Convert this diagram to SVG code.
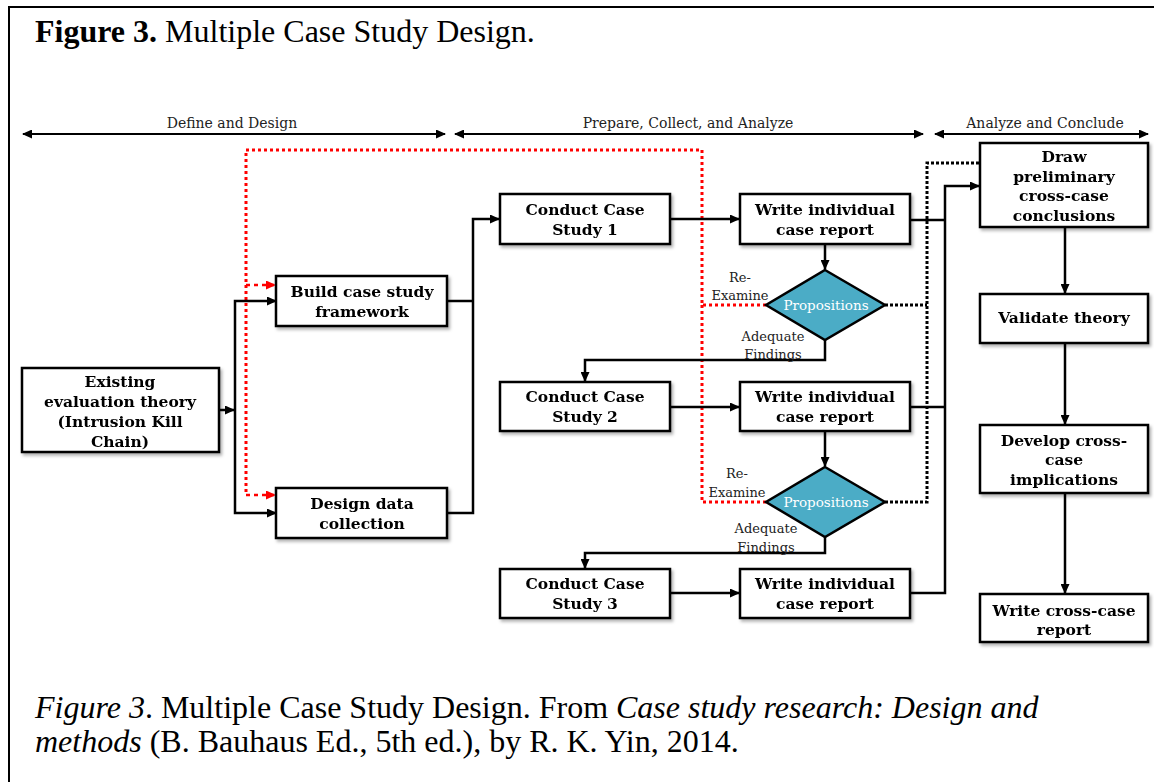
<svg xmlns="http://www.w3.org/2000/svg" width="1154" height="782" viewBox="0 0 1154 782">
<style>
.box{fill:#fff;stroke:#000;stroke-width:2.5}
.bt{font-family:"DejaVu Serif",serif;font-weight:bold;font-size:15.5px;fill:#000;text-anchor:middle}
.rl{font-family:"DejaVu Serif",serif;font-size:14px;fill:#222;text-anchor:middle}
.sl{font-family:"DejaVu Serif",serif;font-size:13px;fill:#222;text-anchor:middle}
.pt{font-family:"DejaVu Serif",serif;font-size:13.5px;fill:#fff;text-anchor:middle}
.ln{fill:none;stroke:#000;stroke-width:2.5}
.rng{fill:none;stroke:#000;stroke-width:2}
.red{fill:none;stroke:#f00;stroke-width:3;stroke-dasharray:3 3}
.redd{fill:none;stroke:#f00;stroke-width:2.5;stroke-dasharray:4 4}
.blk{fill:none;stroke:#000;stroke-width:3;stroke-dasharray:3 2}
.cap{font-family:"Liberation Serif",serif;font-size:32px;fill:#000}
.dia{fill:#4bacc6;stroke:#000;stroke-width:2.5}
</style>
<defs>
<marker id="ah" markerUnits="userSpaceOnUse" markerWidth="10" markerHeight="9" refX="9" refY="4.5" orient="auto-start-reverse"><path d="M0,0 L10,4.5 L0,9 z" fill="#000"/></marker>
<marker id="ahr" markerUnits="userSpaceOnUse" markerWidth="10" markerHeight="9" refX="9" refY="4.5" orient="auto"><path d="M0,0 L10,4.5 L0,9 z" fill="#f00"/></marker>
<filter id="sh" x="-10%" y="-10%" width="130%" height="140%"><feDropShadow dx="2" dy="2.5" stdDeviation="1.5" flood-color="#000" flood-opacity="0.3"/></filter>
</defs>
<rect width="1154" height="782" fill="#fff"/>
<rect x="9" y="7" width="1170" height="800" fill="none" stroke="#000" stroke-width="2"/>
<text class="cap" x="35" y="42"><tspan font-weight="bold">Figure 3.</tspan> Multiple Case Study Design.</text>

<g id="ranges">
<line class="rng" x1="23" y1="134" x2="445" y2="134" marker-start="url(#ah)" marker-end="url(#ah)"/>
<text class="rl" x="232" y="128">Define  and Design</text>
<line class="rng" x1="455" y1="134" x2="923" y2="134" marker-start="url(#ah)" marker-end="url(#ah)"/>
<text class="rl" x="688" y="128">Prepare, Collect, and Analyze</text>
<line class="rng" x1="935" y1="134" x2="1148" y2="134" marker-start="url(#ah)" marker-end="url(#ah)"/>
<text class="rl" x="1045" y="128">Analyze  and Conclude</text>
</g>

<g id="connectors">
<polyline class="red" points="766,305 702,305 702,150 246,150 246,495"/>
<polyline class="red" points="766,502 702,502 702,305"/>
<line class="redd" x1="246" y1="285" x2="275" y2="285" marker-end="url(#ahr)"/>
<line class="redd" x1="246" y1="495" x2="275" y2="495" marker-end="url(#ahr)"/>
<polyline class="blk" points="885,305 927,305"/>
<polyline class="blk" points="885,502 927,502 927,163 980,163"/>
<line class="ln" x1="219" y1="410" x2="234" y2="410" marker-end="url(#ah)"/>
<polyline class="ln" points="276,301 235,301 235,513 276,513" marker-start="url(#ah)" marker-end="url(#ah)"/>
<polyline class="ln" points="447,301 473,301"/>
<polyline class="ln" points="447,513 473,513 473,219 499,219" marker-end="url(#ah)"/>
<line class="ln" x1="670" y1="219" x2="739" y2="219" marker-end="url(#ah)"/>
<line class="ln" x1="825" y1="244" x2="825" y2="269" marker-end="url(#ah)"/>
<polyline class="ln" points="825,340 825,360 585,360 585,381" marker-end="url(#ah)"/>
<line class="ln" x1="670" y1="407" x2="739" y2="407" marker-end="url(#ah)"/>
<line class="ln" x1="825" y1="431" x2="825" y2="466" marker-end="url(#ah)"/>
<polyline class="ln" points="825,537 825,553 585,553 585,568" marker-end="url(#ah)"/>
<line class="ln" x1="670" y1="593" x2="739" y2="593" marker-end="url(#ah)"/>
<polyline class="ln" points="910,220 945,220"/>
<polyline class="ln" points="910,407 945,407"/>
<polyline class="ln" points="910,593 945,593 945,186 979,186" marker-end="url(#ah)"/>
<line class="ln" x1="1065" y1="227" x2="1065" y2="293" marker-end="url(#ah)"/>
<line class="ln" x1="1065" y1="343" x2="1065" y2="424" marker-end="url(#ah)"/>
<line class="ln" x1="1065" y1="493" x2="1065" y2="593" marker-end="url(#ah)"/>
</g>

<g id="existing" filter="url(#sh)">
<rect class="box" x="22" y="368" width="197" height="84"/>
<text class="bt" x="120" y="387">Existing<tspan x="120" dy="20">evaluation theory</tspan><tspan x="120" dy="20">(Intrusion Kill</tspan><tspan x="120" dy="20">Chain)</tspan></text>
</g>
<g id="build" filter="url(#sh)">
<rect class="box" x="276" y="276" width="171" height="50"/>
<text class="bt" x="362" y="297">Build case study<tspan x="362" dy="19.5">framework</tspan></text>
</g>
<g id="design" filter="url(#sh)">
<rect class="box" x="276" y="488" width="171" height="50"/>
<text class="bt" x="362" y="509">Design data<tspan x="362" dy="19.5">collection</tspan></text>
</g>
<g id="conduct1" filter="url(#sh)">
<rect class="box" x="500" y="194" width="170" height="50"/>
<text class="bt" x="585" y="215">Conduct Case<tspan x="585" dy="19.5">Study 1</tspan></text>
</g>
<g id="write1" filter="url(#sh)">
<rect class="box" x="740" y="194" width="170" height="50"/>
<text class="bt" x="825" y="215">Write individual<tspan x="825" dy="19.5">case report</tspan></text>
</g>
<g id="prop1">
<polygon class="dia" points="825,270 885,305 825,340 766,305"/>
<text class="pt" x="826" y="309.5">Propositions</text>
<text class="sl" x="740" y="282">Re-<tspan x="740" dy="18">Examine</tspan></text>
<text class="sl" x="773" y="341">Adequate<tspan x="773" dy="17.5">Findings</tspan></text>
</g>
<g id="conduct2" filter="url(#sh)">
<rect class="box" x="500" y="382" width="170" height="49"/>
<text class="bt" x="585" y="402">Conduct Case<tspan x="585" dy="19.5">Study 2</tspan></text>
</g>
<g id="write2" filter="url(#sh)">
<rect class="box" x="740" y="382" width="170" height="49"/>
<text class="bt" x="825" y="402">Write individual<tspan x="825" dy="19.5">case report</tspan></text>
</g>
<g id="prop2">
<polygon class="dia" points="825,467 885,502 825,537 766,502"/>
<text class="pt" x="826" y="506.5">Propositions</text>
<text class="sl" x="737" y="478">Re-<tspan x="737" dy="18.5">Examine</tspan></text>
<text class="sl" x="766" y="533">Adequate<tspan x="766" dy="18.5">Findings</tspan></text>
</g>
<g id="conduct3" filter="url(#sh)">
<rect class="box" x="500" y="569" width="170" height="49"/>
<text class="bt" x="585" y="589">Conduct Case<tspan x="585" dy="19.5">Study 3</tspan></text>
</g>
<g id="write3" filter="url(#sh)">
<rect class="box" x="740" y="569" width="170" height="49"/>
<text class="bt" x="825" y="589">Write individual<tspan x="825" dy="19.5">case report</tspan></text>
</g>
<g id="draw" filter="url(#sh)">
<rect class="box" x="980" y="143" width="168" height="84"/>
<text class="bt" x="1064" y="162">Draw<tspan x="1064" dy="19.7">preliminary</tspan><tspan x="1064" dy="19.7">cross-case</tspan><tspan x="1064" dy="19.7">conclusions</tspan></text>
</g>
<g id="validate" filter="url(#sh)">
<rect class="box" x="980" y="294" width="168" height="49"/>
<text class="bt" x="1064" y="323">Validate theory</text>
</g>
<g id="develop" filter="url(#sh)">
<rect class="box" x="980" y="425" width="168" height="68"/>
<text class="bt" x="1064" y="446">Develop cross-<tspan x="1064" dy="19.3">case</tspan><tspan x="1064" dy="19.3">implications</tspan></text>
</g>
<g id="writecross" filter="url(#sh)">
<rect class="box" x="980" y="594" width="168" height="48"/>
<text class="bt" x="1064" y="616">Write cross-case<tspan x="1064" dy="19.3">report</tspan></text>
</g>

<text class="cap" x="35" y="718"><tspan font-style="italic">Figure 3</tspan>. Multiple Case Study Design. From <tspan font-style="italic">Case study research: Design and</tspan></text>
<text class="cap" x="35" y="752"><tspan font-style="italic">methods</tspan> (B. Bauhaus Ed., 5th ed.), by R. K. Yin, 2014.</text>
</svg>
